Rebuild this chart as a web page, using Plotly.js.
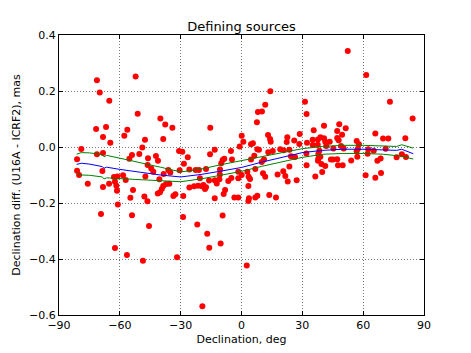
<!DOCTYPE html>
<html>
<head>
<meta charset="utf-8">
<script src="https://cdn.plot.ly/plotly-3.0.1.min.js"></script>
<style>body{margin:0;background:#fff}</style>
</head>
<body>
<div id="chart" style="width:471px;height:353px"></div>
<script>
// defining sources: declination (deg) and declination difference (mas)
const decl = [
  -71.3, -69.9, -65.2, -52.2, -51.2, -40.0, 8.1, 10.1, 11.7, 14.2, 31.3, 32.1, 61.5, 73.2, 84.4, 52.4,
  7.6, -15.4, -37.6, -34.1, -38.6, -71.7, -66.8, -68.3, -64.7, -56.3, -57.8, -47.6, -48.9, -79.0,
  -71.3, -68.3, -81.1, -55.3, -54.0, -50.4, -46.1, -42.2, -30.8, -29.2, -26.5, -41.2, -46.3, -44.5,
  -43.5, -36.1, -81.1, -80.1, -68.6, -47.4, -38.4, -75.8, -65.3, -68.3, -62.9, -61.2, -58.4, -57.1,
  -62.4, -61.7, -61.4, -53.5, -37.2, -38.6, -39.3, -40.2, -41.3, -32.6, -33.6, -47.9, -54.8, -46.4,
  -61.0, -28.7, -30.5, -28.4, -69.3, -54.0, -45.6, -28.8, -62.4, -56.5, -48.6, -31.8, -40.5, -35.6,
  -35.1,
  13.1, 14.1, 14.4, 22.6, 22.3, 26.0, 28.7, 28.5, 0.1, 0.9, 4.7, 5.6, -0.9, -5.2, -13.2, -15.5,
  -9.3, -8.5, -10.0, -4.7, 4.7, 6.3, 8.6, 10.0, 11.1, 13.2, 15.4, 19.1, 20.8, 23.6, 24.4, 26.4,
  23.6, 20.6, 21.6, 22.8, 27.2, 17.8, 10.6, 11.7, 6.8, 2.9, 3.5, 4.2, 0.1, -1.6, -1.6, 3.4, -5.0,
  -6.5, -10.9, -12.2, -13.2, -8.8, -8.1, -13.2, -3.5, -1.6, 3.7, 3.4, 6.8, 7.8, 13.7, 17.0, -16.0,
  -17.5, -18.8, -19.5, -18.0, -20.5, -21.0, -17.5, -22.6, -21.4, -23.4, -25.7, -25.7, -10.6, -10.7,
  7.8, -21.8, -9.3, -16.9, -15.9, -10.3, 2.6, 32.1, -19.3,
  35.6, 40.7, 48.2, 47.2, 51.4, 49.6, 47.2, 47.9, 32.3, 35.1, 37.7, 38.9, 40.7, 41.3, 43.5, 37.6,
  35.1, 41.8, 45.3, 49.1, 50.4, 56.8, 57.9, 57.4, 56.8, 57.1, 66.0, 69.8, 72.4, 80.8, 62.5, 65.2,
  71.1, 62.2, 67.0, 68.6, 76.5, 79.1, 81.1, 38.4, 37.9, 38.9, 37.9, 37.7, 39.4, 41.3, 44.1, 45.1,
  47.2, 47.6, 49.9, 54.1, 36.4, 39.8, 61.2, 66.0, 68.8, 32.0
];
const diff = [
  0.238, 0.195, 0.165, 0.252, 0.119, 0.102, 0.125, 0.127, 0.151, 0.199, 0.162, 0.118, 0.257, 0.162, 0.102, 0.343,
  0.088, 0.069, 0.080, 0.069, 0.029, 0.064, 0.071, 0.036, 0.015, 0.062, 0.040, 0.026, -0.002, -0.007,
  -0.026, -0.021, -0.044, -0.042, -0.029, -0.025, -0.040, -0.032, -0.014, -0.017, -0.037, -0.049, -0.064, -0.077,
  -0.088, -0.082, -0.085, -0.100, -0.086, -0.105, -0.096, -0.131, -0.131, -0.143, -0.107, -0.105, -0.101, -0.118,
  -0.124, -0.138, -0.156, -0.154, -0.132, -0.139, -0.150, -0.162, -0.166, -0.169, -0.175, -0.177, -0.181, -0.194,
  -0.205, -0.175, -0.083, -0.060, -0.239, -0.244, -0.282, -0.250, -0.361, -0.386, -0.406, -0.394, -0.115, -0.131,
  -0.091,
  0.043, 0.029, 0.019, 0.035, 0.018, 0.023, 0.046, 0.011, 0.040, 0.019, 0.010, 0.013, 0.002, -0.014, -0.010, -0.026,
  -0.046, -0.042, -0.058, -0.045, -0.045, -0.031, -0.010, -0.054, -0.045, -0.019, -0.014, -0.008, -0.012, -0.010, -0.033, -0.036,
  -0.070, -0.087, -0.104, -0.123, -0.119, -0.098, -0.094, -0.106, -0.079, -0.088, -0.106, -0.114, -0.100, -0.088, -0.112, -0.139, -0.111,
  -0.121, -0.115, -0.130, -0.119, -0.168, -0.154, -0.183, -0.180, -0.180, -0.183, -0.193, -0.180, -0.174, -0.171, -0.180, -0.120,
  -0.144, -0.136, -0.140, -0.150, -0.112, -0.082, -0.079, -0.082, -0.138, -0.140, -0.145, -0.080, -0.080, -0.098,
  -0.008, -0.277, -0.245, -0.310, -0.360, -0.345, -0.423, -0.065, -0.569,
  0.060, 0.076, 0.081, 0.057, 0.067, 0.044, 0.032, 0.024, 0.015, 0.026, 0.027, 0.035, 0.031, 0.019, 0.019, 0.008,
  0.007, 0.004, -0.005, 0.004, -0.005, 0.021, 0.010, -0.006, -0.015, -0.035, 0.048, 0.030, 0.030, 0.031, -0.008, -0.013,
  -0.006, -0.024, -0.049, -0.041, -0.037, -0.026, -0.036, -0.013, -0.025, -0.035, -0.041, -0.049, -0.061, -0.068, -0.045, -0.045,
  -0.044, -0.065, -0.065, -0.048, -0.105, -0.089, -0.101, -0.110, -0.093, -0.023
];

// smoothed curve and its band
const lineDecl = [-81.3, -79, -75, -70, -68.6, -67.8, -66.5, -60, -50, -40, -30, -20, -10, 0, 10, 20, 30, 40, 50, 60, 70, 76.5, 79, 84.7];
const meanLine = [-0.062, -0.058, -0.061, -0.068, -0.070, -0.076, -0.072, -0.080, -0.090, -0.100, -0.107, -0.098, -0.086, -0.073, -0.054, -0.038, -0.020, -0.012, -0.008, -0.008, -0.010, -0.012, -0.008, -0.024];
const upperLine = [-0.026, -0.020, -0.021, -0.025, -0.027, -0.035, -0.030, -0.040, -0.055, -0.072, -0.089, -0.079, -0.063, -0.049, -0.036, -0.020, -0.006, 0.002, 0.006, 0.006, 0.004, 0.002, 0.008, -0.004];
const lowerLine = [-0.094, -0.100, -0.101, -0.105, -0.107, -0.114, -0.110, -0.113, -0.117, -0.121, -0.124, -0.114, -0.101, -0.087, -0.069, -0.053, -0.037, -0.026, -0.023, -0.023, -0.026, -0.031, -0.033, -0.043];

const xTicks = [-90, -60, -30, 0, 30, 60, 90];
const yTicks = [-0.6, -0.4, -0.2, 0.0, 0.2, 0.4];

const font = 'DejaVu Sans, sans-serif';

const traces = [
  {x: decl, y: diff, type: 'scatter', mode: 'markers',
   marker: {color: '#ff0000', size: 6, line: {width: 0}}},
  {x: lineDecl, y: meanLine, type: 'scatter', mode: 'lines', line: {color: '#0000ff', width: 1}},
  {x: lineDecl, y: upperLine, type: 'scatter', mode: 'lines', line: {color: '#008000', width: 1}},
  {x: lineDecl, y: lowerLine, type: 'scatter', mode: 'lines', line: {color: '#008000', width: 1}}
];

const axisStyle = {
  showline: true, linecolor: '#000', linewidth: 1, mirror: 'allticks',
  ticks: 'inside', ticklen: 4, tickcolor: '#000',
  showgrid: true, gridcolor: '#777', griddash: '1px,2px', gridwidth: 1,
  zeroline: false, automargin: false,
  tickfont: {family: font, size: 11, color: '#000'}
};

const layout = {
  width: 471, height: 353,
  margin: {l: 59, r: 47, t: 35, b: 38},
  paper_bgcolor: '#fff', plot_bgcolor: '#fff',
  showlegend: false,
  font: {family: font, color: '#000'},
  title: {text: 'Defining sources', font: {family: font, size: 13, color: '#000'},
          xref: 'paper', x: 0.5, xanchor: 'center', yref: 'container', y: 0.925, yanchor: 'middle'},
  xaxis: Object.assign({}, axisStyle, {
    range: [-90, 90], tickvals: xTicks,
    title: {text: 'Declination, deg', font: {family: font, size: 11, color: '#000'}, standoff: 4}
  }),
  yaxis: Object.assign({}, axisStyle, {
    range: [-0.6, 0.4], tickvals: yTicks, tickformat: '.1f',
    title: {text: 'Declination diff. (U16A - ICRF2), mas', font: {family: font, size: 11, color: '#000'}, standoff: 6}
  })
};

Plotly.newPlot('chart', traces, layout, {staticPlot: true, displayModeBar: false});
</script>
</body>
</html>
